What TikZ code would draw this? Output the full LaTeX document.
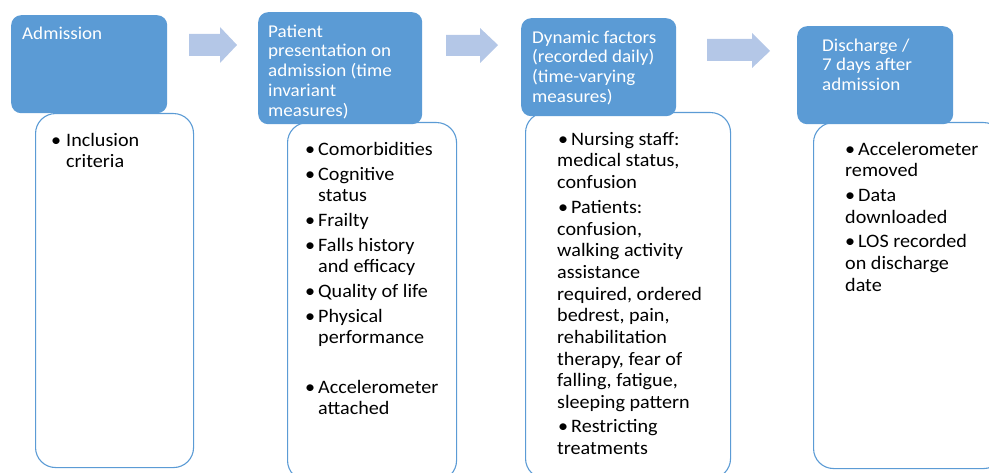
\documentclass[tikz,border=0pt]{standalone}
\usepackage{fontspec}
\setmainfont{Carlito}[FakeStretch=1.06]
\definecolor{hdrblue}{HTML}{5B9BD5}
\definecolor{arrowblue}{HTML}{B4C7E7}
% bullet in a fixed-width box, and a strut fixing the top of a text block
\newcommand\bul[1][11pt]{\makebox[#1][l]{\hspace*{-2pt}\textbullet}}
\newcommand\topstrut{\rule{0pt}{15pt}}
\begin{document}
\begin{tikzpicture}[x=1pt,y=-1pt,
  header/.style={draw=none, fill=hdrblue, rounded corners=10pt, anchor=north west, inner sep=0pt},
  body/.style={draw=hdrblue, line width=1.1pt, fill=white, rounded corners=20pt, anchor=north west, inner sep=0pt},
  flow/.style={fill=arrowblue},
  headtext/.style={anchor=north west, inner sep=0pt, text=white, align=left, font=\fontsize{18}{19.8}\selectfont},
  bodytext/.style={anchor=north west, inner sep=0pt, align=left, font=\fontsize{19}{21.3}\selectfont},
  widetext/.style={bodytext, font=\fontsize{19}{21.7}\selectfont}]
\useasboundingbox (0,0) rectangle (989,473);
\clip (0,0) rectangle (989,473);

% detail boxes (drawn first, headers overlap their tops)
\node[body, minimum width=158pt, minimum height=354pt] (b1) at (35,113) {};
\node[body, minimum width=169pt, minimum height=358pt] (b2) at (287,122) {};
\node[body, minimum width=205pt, minimum height=366pt] (b3) at (525,112) {};
\node[body, minimum width=190pt, minimum height=346pt] (b4) at (813,122) {};

% stage headers
\node[header, minimum width=156pt, minimum height=98pt] (h1) at (11,15) {};
\node[header, minimum width=164pt, minimum height=112pt] (h2) at (258,12) {};
\node[header, minimum width=155pt, minimum height=98pt] (h3) at (521,18) {};
\node[header, minimum width=156pt, minimum height=98pt] (h4) at (797,26) {};

% block arrows between stages
\fill[flow] (189,34) -- (220,34) -- (220,27) -- (237,45) -- (220,63) -- (220,56) -- (189,56) -- cycle;
\fill[flow] (446,35) -- (480,35) -- (480,28) -- (498,45) -- (480,63) -- (480,56) -- (446,56) -- cycle;
\fill[flow] (707,39) -- (752,39) -- (752,33) -- (770,51) -- (752,68) -- (752,61) -- (707,61) -- cycle;

% header texts
\node[headtext] (t1) at (22,24) {\topstrut Admission};
\node[headtext] (t2) at (268,22) {\topstrut Patient\\presentation on\\admission (time\\invariant\\measures)};
\node[headtext] (t3) at (532,28) {\topstrut Dynamic factors\\(recorded daily)\\(time-varying\\measures)};
\node[headtext] (t4) at (822,36) {\topstrut Discharge /\\7 days after\\admission};

% box contents
\node[bodytext] (c1) at (53,131) {\topstrut\bul[13pt]Inclusion\\\hspace*{13pt}criteria};
\node[bodytext] (c2) at (307,140) {\topstrut\bul Comorbidities\\[3.6pt]
  \bul Cognitive\\\hspace*{11pt}status\\[3.6pt]
  \bul Frailty\\[3.6pt]
  \bul Falls history\\\hspace*{11pt}and efficacy\\[3.6pt]
  \bul Quality of life\\[3.6pt]
  \bul Physical\\\hspace*{11pt}performance\\[28.4pt]
  \bul Accelerometer\\\hspace*{11pt}attached};
\node[widetext] (c3) at (557,130) {\topstrut\hspace*{3pt}\bul Nursing staff:\\medical status,\\confusion\\[3pt]
  \hspace*{3pt}\bul Patients:\\confusion,\\walking activity\\assistance\\required, ordered\\bedrest, pain,\\rehabilitation\\therapy, fear of\\falling, fatigue,\\sleeping pattern\\[2.5pt]
  \hspace*{3pt}\bul Restricting\\treatments};
\node[widetext] (c4) at (845,140) {\topstrut\hspace*{2pt}\bul Accelerometer\\removed\\[3pt]
  \hspace*{2pt}\bul Data\\downloaded\\[3pt]
  \hspace*{2pt}\bul LOS recorded\\on discharge\\date};
\end{tikzpicture}
\end{document}
